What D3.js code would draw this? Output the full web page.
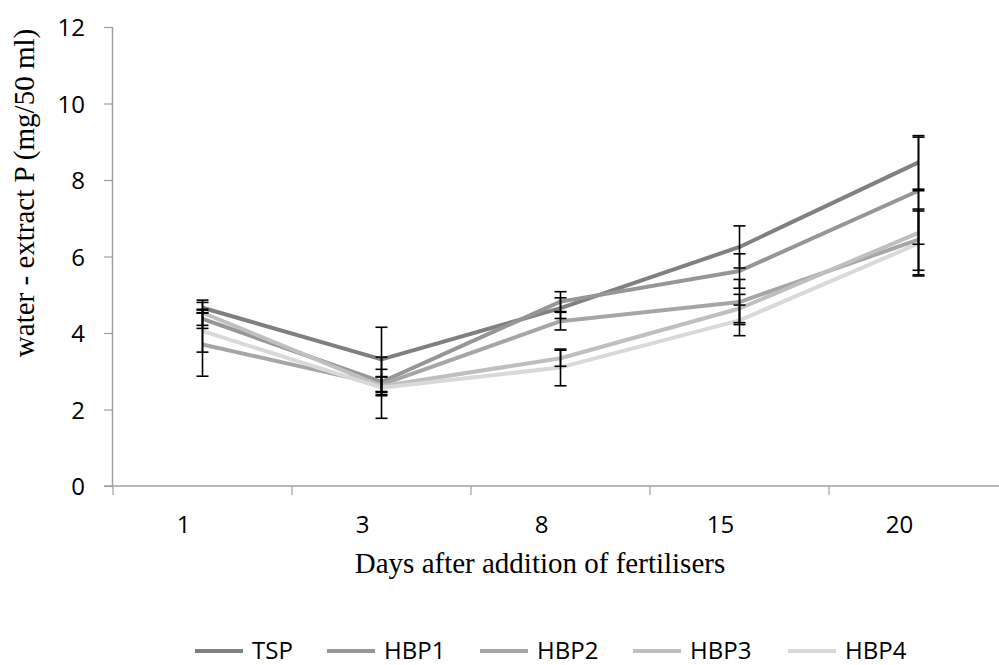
<!DOCTYPE html>
<html><head><meta charset="utf-8">
<script src="https://cdn.jsdelivr.net/npm/d3@7"></script>
<style>body{margin:0;background:#fff;overflow:hidden}</style>
</head><body>
<svg id="c" width="999" height="665"></svg>
<script>
const categories = ["1","3","8","15","20"];
const seriesNames = ["TSP","HBP1","HBP2","HBP3","HBP4"];
const TSP  = [4.66, 3.31, 4.65, 6.25, 8.46];
const HBP1 = [4.37, 2.72, 4.82, 5.62, 7.72];
const HBP2 = [3.70, 2.65, 4.31, 4.81, 6.44];
const HBP3 = [4.53, 2.61, 3.34, 4.64, 6.62];
const HBP4 = [4.05, 2.57, 3.10, 4.33, 6.34];
const errTSP  = [0.14, 0.84, 0.27, 0.55, 0.70];
const errHBP1 = [0.25, 0.33, 0.26, 0.45, 1.40];
const errHBP2 = [0.83, 0.20, 0.23, 0.59, 0.80];
const errHBP3 = [0.33, 0.25, 0.21, 0.37, 1.10];
const errHBP4 = [0.55, 0.80, 0.48, 0.40, 0.85];
const yTicks = [0,2,4,6,8,10,12];
const colors = ["#808080","#969696","#a6a6a6","#bfbfbf","#d9d9d9"];

const values = [TSP,HBP1,HBP2,HBP3,HBP4];
const errs = [errTSP,errHBP1,errHBP2,errHBP3,errHBP4];

const svg = d3.select("#c");
const L=113, T=27, B=486, band=179;
const x = d3.scaleBand().domain(categories).range([L, L+band*categories.length]);
const y = d3.scaleLinear().domain([0,12]).range([B,T]);
const cx = c => x(c)+x.bandwidth()/2;
const sans = "'Open Sans', Calibri, sans-serif";
const serif = "'Liberation Serif', 'Times New Roman', serif";
const axisCol = "#a0a0a0";

// y axis
const ya = svg.append("g").attr("transform",`translate(${L},0)`)
  .call(d3.axisLeft(y).tickValues(yTicks).tickSize(9).tickPadding(19).tickFormat(d3.format("d")));
ya.select(".domain").attr("stroke",axisCol).attr("stroke-width",1.5).attr("d",`M-0.5,${B}V${T}`);
ya.selectAll(".tick line").attr("stroke",axisCol).attr("stroke-width",1.2);
ya.selectAll("text").attr("font-family",sans).attr("font-size",24).attr("fill","#000").attr("dy","0.36em");

// x axis
svg.append("line").attr("x1",L-9).attr("x2",999).attr("y1",B).attr("y2",B).attr("stroke",axisCol).attr("stroke-width",1.5);
const bounds = categories.map(c=>x(c)).concat([L+band*categories.length]);
svg.append("g").selectAll("line").data(bounds).join("line")
  .attr("x1",d=>d).attr("x2",d=>d).attr("y1",B).attr("y2",B+9).attr("stroke",axisCol).attr("stroke-width",1.2);
svg.append("g").selectAll("text").data(categories).join("text")
  .attr("x",d=>cx(d)-19).attr("y",533).attr("text-anchor","middle")
  .attr("font-family",sans).attr("font-size",24).attr("fill","#000").text(d=>d);

// titles
svg.append("text").attr("transform",`translate(34,193) rotate(-90)`).attr("text-anchor","middle")
  .attr("font-family",serif).attr("font-size",29).attr("fill","#000").text("water - extract P (mg/50 ml)");
svg.append("text").attr("x",540).attr("y",573).attr("text-anchor","middle")
  .attr("font-family",serif).attr("font-size",29).attr("fill","#000").text("Days after addition of fertilisers");

// lines
const line = d3.line().x((d,i)=>cx(categories[i])).y(d=>y(d));
values.forEach((v,si)=>{
  svg.append("path").datum(v).attr("d",line).attr("fill","none")
    .attr("stroke",colors[si]).attr("stroke-width",4).attr("stroke-linejoin","round");
});
// error bars
values.forEach((v,si)=>{
  const g = svg.append("g").attr("stroke","#000").attr("stroke-width",1.6);
  v.forEach((val,i)=>{
    const xc = cx(categories[i]), e = errs[si][i];
    g.append("line").attr("x1",xc).attr("x2",xc).attr("y1",y(val-e)).attr("y2",y(val+e));
    [val-e,val+e].forEach(yy=>g.append("line").attr("x1",xc-6).attr("x2",xc+6).attr("y1",y(yy)).attr("y2",y(yy)));
  });
});

// legend
const legX = [195,327,480,633,788];
const lg = svg.append("g");
seriesNames.forEach((n,i)=>{
  lg.append("line").attr("x1",legX[i]).attr("x2",legX[i]+48).attr("y1",651).attr("y2",651)
    .attr("stroke",colors[i]).attr("stroke-width",4);
  lg.append("text").attr("x",legX[i]+57).attr("y",659).attr("font-family",sans).attr("font-size",24).attr("fill","#000").text(n);
});
</script>
</body></html>
